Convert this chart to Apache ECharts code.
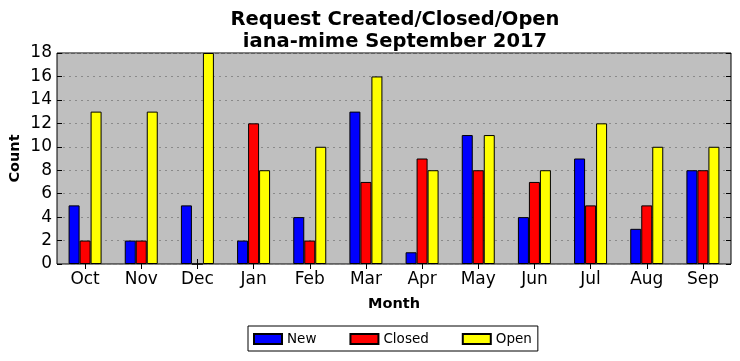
<!DOCTYPE html>
<html><head><meta charset="utf-8">
<script src="https://cdn.jsdelivr.net/npm/echarts@6/dist/echarts.min.js"></script>
<style>html,body{margin:0;padding:0;background:#fff}#c{width:740px;height:361px}</style>
</head><body><div id="c"></div>
<script>
const months = ['Oct','Nov','Dec','Jan','Feb','Mar','Apr','May','Jun','Jul','Aug','Sep'];
const newVals = [5,2,5,2,4,13,1,11,4,9,3,8];
const closedVals = [2,2,0,12,2,7,9,8,7,5,5,8];
const openVals = [13,13,18,8,10,16,8,11,8,12,10,10];
const yTicks = [0,2,4,6,8,10,12,14,16,18];

const F = 'DejaVu Sans';
const chart = echarts.init(document.getElementById('c'), null, {renderer:'canvas'});
const mk = (name, data, color) => ({
  name, type:'bar', data, barWidth:11, barGap:'0%',
  itemStyle:{color, borderColor:'#000', borderWidth:1},
  xAxisIndex:0, yAxisIndex:0
});
chart.setOption({
  animation:false,
  textStyle:{fontFamily:F},
  title:{
    text:'Request Created/Closed/Open\niana-mime September 2017',
    left:390, top:4, textAlign:'center',
    textStyle:{fontFamily:F, fontSize:19.5, fontWeight:'bold', color:'#000', lineHeight:22}
  },
  grid:{left:57, right:9, top:53, bottom:97, containLabel:false, outerBoundsMode:'none',
    show:true, backgroundColor:'#bfbfbf', borderColor:'#000', borderWidth:1},
  legend:{
    bottom:10, left:248, itemWidth:28, itemHeight:10, itemGap:33, icon:'rect',
    borderColor:'#000', borderWidth:1, padding:[6,6,5,5],
    textStyle:{fontFamily:F, fontSize:13.5, color:'#000'},
    data:['New','Closed','Open']
  },
  xAxis:[{
    type:'category', data:months, position:'bottom',
    name:'Month', nameLocation:'middle', nameGap:33,
    nameTextStyle:{fontFamily:F, fontSize:14.5, fontWeight:'bold', color:'#000'},
    axisLine:{show:false}, axisTick:{show:true, inside:true, alignWithLabel:true, length:5, lineStyle:{color:'#000'}},
    axisLabel:{fontFamily:F, fontSize:17, color:'#000', margin:7},
    splitLine:{show:false}
  },{
    type:'category', data:months, position:'top',
    axisLine:{show:false}, axisTick:{show:true, inside:true, alignWithLabel:true, length:5, lineStyle:{color:'#000'}},
    axisLabel:{show:false}, splitLine:{show:false}
  }],
  yAxis:[{
    type:'value', min:0, max:18, interval:2,
    name:'Count', nameLocation:'middle', nameGap:34, nameRotate:90, nameMoveOverlap:false,
    nameTextStyle:{fontFamily:F, fontSize:14.5, fontWeight:'bold', color:'#000'},
    axisLine:{show:false}, axisTick:{show:true, inside:true, length:5, lineStyle:{color:'#000'}},
    axisLabel:{fontFamily:F, fontSize:17, color:'#000', margin:5,
      formatter:v=>yTicks.includes(v)?String(v):''},
    splitLine:{show:true, lineStyle:{color:'#8a8a8a', type:[2,4], width:1}}
  },{
    type:'value', min:0, max:18, interval:2, position:'right',
    axisLine:{show:false}, axisTick:{show:true, inside:true, length:5, lineStyle:{color:'#000'}},
    axisLabel:{show:false}, splitLine:{show:false}
  }],
  series:[mk('New',newVals,'#0000ff'), mk('Closed',closedVals,'#ff0000'), mk('Open',openVals,'#ffff00')]
});
</script></body></html>
